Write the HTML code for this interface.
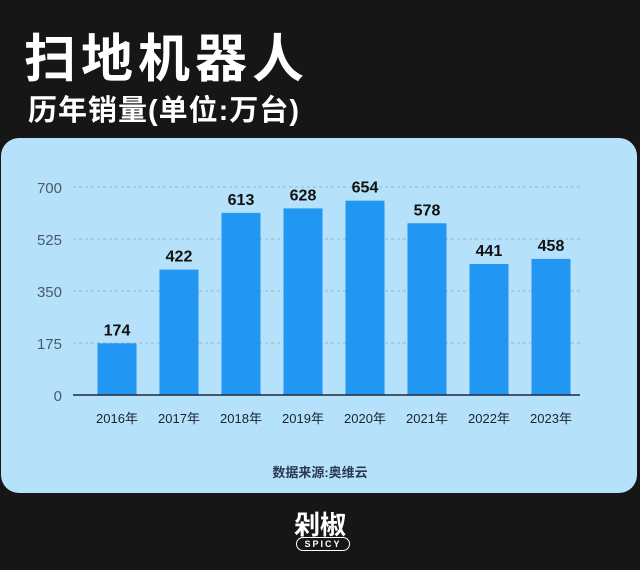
<!DOCTYPE html>
<html><head><meta charset="utf-8"><style>
body{margin:0;width:640px;height:570px;background:#161616;overflow:hidden;font-family:"Liberation Sans","Noto Sans CJK SC",sans-serif;position:relative}
.t{position:absolute;color:#fff;font-weight:bold}
</style></head><body>
<div class="t" style="left:24px;top:17px;font-size:52px;letter-spacing:5px">扫地机器人</div>
<div class="t" style="left:28px;top:87px;font-size:29px;letter-spacing:1px">历年销量(单位:万台)</div>
<div style="position:absolute;left:1px;top:138px;width:636px;height:355px;background:#b5e2fa;border-radius:18px"></div>
<svg id="c" width="640" height="570" style="position:absolute;left:0;top:0"></svg>
<div style="position:absolute;left:0;width:640px;top:462px;text-align:center;font-size:13px;color:#2a3a50;font-weight:bold">数据来源:奥维云</div>
<div class="t" style="left:0;width:640px;text-align:center;top:505px;font-size:26px">剁椒</div>
<div style="position:absolute;left:296px;top:537px;width:52px;height:12px;border:1.5px solid #fff;border-radius:8px;color:#fff;font-size:9px;font-weight:bold;text-align:center;line-height:12px;letter-spacing:2px">SPICY</div>
<script>
const categories=["2016年","2017年","2018年","2019年","2020年","2021年","2022年","2023年"];
const values=[174,422,613,628,654,578,441,458];
const ticks=[0,175,350,525,700];
const svg=document.getElementById('c');const NS="http://www.w3.org/2000/svg";
const y=v=>395-v*(208/700);
const x=i=>117+i*62;
function mk(t,a){const e=document.createElementNS(NS,t);for(const k in a)e.setAttribute(k,a[k]);svg.appendChild(e);return e;}
ticks.forEach(t=>{
 if(t>0){const l=mk('line',{x1:73,x2:580,y1:y(t),y2:y(t),stroke:'#8fb8d0','stroke-dasharray':'3 3','stroke-width':1});
 
 }
 const tx=mk('text',{x:62,y:y(t)+6,'text-anchor':'end','font-size':15,fill:'#4a5a6a'});tx.textContent=t;
 
 
});
values.forEach((v,i)=>{
 const r=mk('rect',{x:x(i)-19.5,y:y(v),width:39,height:395-y(v),fill:'#2196f3'});
 
 
 const lt=mk('text',{x:x(i),y:y(v)-8,'text-anchor':'middle','font-size':16,'font-weight':'bold',fill:'#111'});lt.textContent=v;
 
 
 const ct=mk('text',{x:x(i),y:423,'text-anchor':'middle','font-size':13,fill:'#1a2230'});ct.textContent=categories[i];
 
 
});
const ax=mk('line',{x1:73,x2:580,y1:395,y2:395,stroke:'#1e2a3a','stroke-width':1.5});


</script>
</body></html>
